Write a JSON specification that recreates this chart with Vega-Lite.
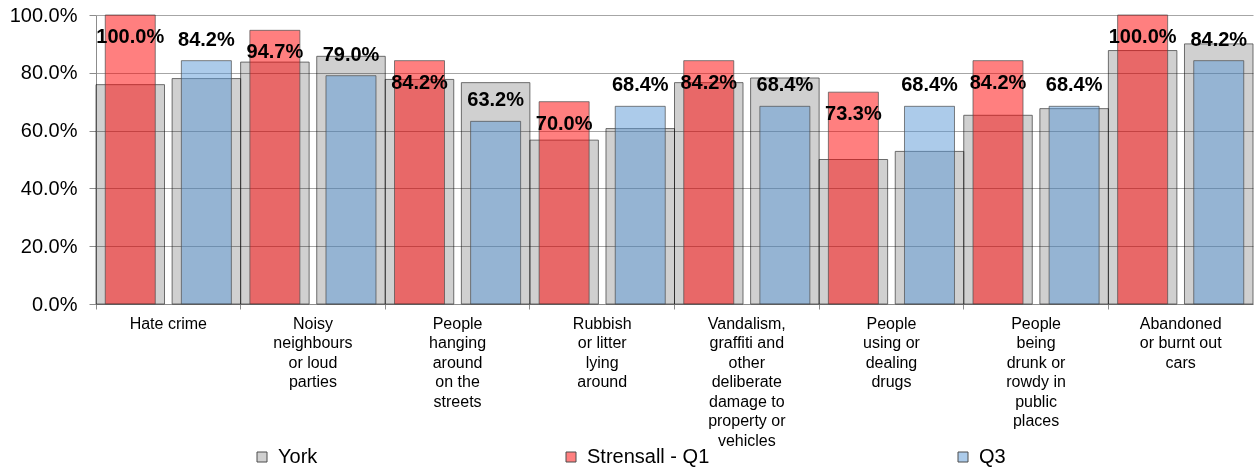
{
  "$schema": "https://vega.github.io/schema/vega-lite/v6.json",
  "width": 1157,
  "height": 289,
  "autosize": {"type": "none"},
  "padding": {"left": 96, "top": 15, "right": 3, "bottom": 166},
  "background": "white",
  "config": {
    "view": {"stroke": null},
    "font": "Liberation Sans",
    "axisY": {
      "grid": true,
      "gridColor": "#a6a6a6",
      "gridWidth": 1,
      "domainColor": "#8c8c8c",
      "tickColor": "#8c8c8c",
      "tickSize": 7,
      "labelFontSize": 20,
      "labelColor": "#000000",
      "labelPadding": 12,
      "title": null
    }
  },
  "data": {
    "values": [
      {"category": "Hate crime", "period": "Q1", "series": "Strensall - Q1", "york": 0.759, "value": 1.0},
      {"category": "Hate crime", "period": "Q3", "series": "Q3", "york": 0.78, "value": 0.842},
      {"category": "Noisy neighbours or loud parties", "period": "Q1", "series": "Strensall - Q1", "york": 0.837, "value": 0.947},
      {"category": "Noisy neighbours or loud parties", "period": "Q3", "series": "Q3", "york": 0.857, "value": 0.79},
      {"category": "People hanging around on the streets", "period": "Q1", "series": "Strensall - Q1", "york": 0.777, "value": 0.842},
      {"category": "People hanging around on the streets", "period": "Q3", "series": "Q3", "york": 0.766, "value": 0.632},
      {"category": "Rubbish or litter lying around", "period": "Q1", "series": "Strensall - Q1", "york": 0.567, "value": 0.7},
      {"category": "Rubbish or litter lying around", "period": "Q3", "series": "Q3", "york": 0.607, "value": 0.684},
      {"category": "Vandalism, graffiti and other deliberate damage to property or vehicles", "period": "Q1", "series": "Strensall - Q1", "york": 0.766, "value": 0.842},
      {"category": "Vandalism, graffiti and other deliberate damage to property or vehicles", "period": "Q3", "series": "Q3", "york": 0.782, "value": 0.684},
      {"category": "People using or dealing drugs", "period": "Q1", "series": "Strensall - Q1", "york": 0.5, "value": 0.733},
      {"category": "People using or dealing drugs", "period": "Q3", "series": "Q3", "york": 0.528, "value": 0.684},
      {"category": "People being drunk or rowdy in public places", "period": "Q1", "series": "Strensall - Q1", "york": 0.653, "value": 0.842},
      {"category": "People being drunk or rowdy in public places", "period": "Q3", "series": "Q3", "york": 0.676, "value": 0.684},
      {"category": "Abandoned or burnt out cars", "period": "Q1", "series": "Strensall - Q1", "york": 0.877, "value": 1.0},
      {"category": "Abandoned or burnt out cars", "period": "Q3", "series": "Q3", "york": 0.9, "value": 0.842}
    ]
  },
  "resolve": {"axis": {"x": "independent"}},
  "layer": [
    {
      "mark": {"type": "bar", "blend": "multiply", "stroke": "#4d4d4d", "strokeWidth": 1, "strokeOpacity": 0.8},
      "encoding": {
        "x": {
          "field": "category", "type": "nominal", "sort": null,
          "scale": {"paddingInner": 0, "paddingOuter": 0},
          "axis": {
            "orient": "bottom",
            "title": null, "ticks": false, "domain": true, "domainColor": "#8c8c8c", "grid": false,
            "labelAngle": 0, "labelFontSize": 16, "labelColor": "#000000", "labelLineHeight": 19.5,
            "labelPadding": 11, "labelBaseline": "top", "labelLimit": 200,
            "labelExpr": "{'Hate crime': ['Hate crime'], 'Noisy neighbours or loud parties': ['Noisy', 'neighbours', 'or loud', 'parties'], 'People hanging around on the streets': ['People', 'hanging', 'around', 'on the', 'streets'], 'Rubbish or litter lying around': ['Rubbish', 'or litter', 'lying', 'around'], 'Vandalism, graffiti and other deliberate damage to property or vehicles': ['Vandalism,', 'graffiti and', 'other', 'deliberate', 'damage to', 'property or', 'vehicles'], 'People using or dealing drugs': ['People', 'using or', 'dealing', 'drugs'], 'People being drunk or rowdy in public places': ['People', 'being', 'drunk or', 'rowdy in', 'public', 'places'], 'Abandoned or burnt out cars': ['Abandoned', 'or burnt out', 'cars']}[datum.label]"
          }
        },
        "xOffset": {"field": "period", "type": "nominal", "scale": {"paddingInner": 0.1, "paddingOuter": 0}},
        "y": {
          "field": "york", "type": "quantitative", "title": null, "scale": {"domain": [0, 1]},
          "axis": {"values": [0, 0.2, 0.4, 0.6, 0.8, 1], "format": ".1%", "title": null}
        },
        "color": {
          "datum": "York", "type": "nominal", "title": null,
          "scale": {"domain": ["York", "Strensall - Q1", "Q3"], "range": ["#d0d0d0", "rgba(255,0,0,0.5)", "rgba(89,151,213,0.5)"]},
          "legend": {
            "title": null, "orient": "none", "direction": "horizontal", "legendX": 156, "legendY": 432,
            "symbolType": "square", "symbolSize": 100, "symbolStrokeColor": "#555555", "symbolStrokeWidth": 1,
            "labelFontSize": 20, "labelColor": "#000000", "labelOffset": 6, "columnPadding": 243, "gridAlign": "none"
          }
        }
      }
    },
    {
      "mark": {"type": "bar", "width": 50, "stroke": "#4d4d4d", "strokeWidth": 1, "strokeOpacity": 0.7},
      "encoding": {
        "x": {"field": "category", "type": "nominal", "sort": null, "axis": null},
        "xOffset": {"field": "period", "type": "nominal"},
        "y": {"field": "value", "type": "quantitative", "title": null, "axis": {"values": [0, 0.2, 0.4, 0.6, 0.8, 1], "format": ".1%", "title": null}},
        "color": {"field": "series", "type": "nominal", "title": null, "legend": {"title": null}}
      }
    },
    {
      "transform": [{"filter": "datum.period == 'Q1'"}],
      "mark": {"type": "text", "fontSize": 20, "fontWeight": "bold", "dy": 22, "baseline": "middle", "color": "#000000"},
      "encoding": {
        "x": {"field": "category", "type": "nominal", "sort": null, "axis": null},
        "xOffset": {"field": "period", "type": "nominal"},
        "y": {"field": "value", "type": "quantitative", "title": null, "axis": {"values": [0, 0.2, 0.4, 0.6, 0.8, 1], "format": ".1%", "title": null}},
        "text": {"field": "value", "type": "quantitative", "format": ".1%"}
      }
    },
    {
      "transform": [{"filter": "datum.period == 'Q3'"}],
      "mark": {"type": "text", "fontSize": 20, "fontWeight": "bold", "dy": -21, "baseline": "middle", "color": "#000000"},
      "encoding": {
        "x": {
          "field": "category", "type": "nominal", "sort": null,
          "axis": {"orient": "bottom", "title": null, "labels": false, "ticks": true, "tickSize": 5, "tickColor": "#8c8c8c", "bandPosition": 0, "domain": false, "grid": false}
        },
        "xOffset": {"field": "period", "type": "nominal"},
        "y": {"field": "value", "type": "quantitative", "title": null, "axis": {"values": [0, 0.2, 0.4, 0.6, 0.8, 1], "format": ".1%", "title": null}},
        "text": {"field": "value", "type": "quantitative", "format": ".1%"}
      }
    }
  ]
}
